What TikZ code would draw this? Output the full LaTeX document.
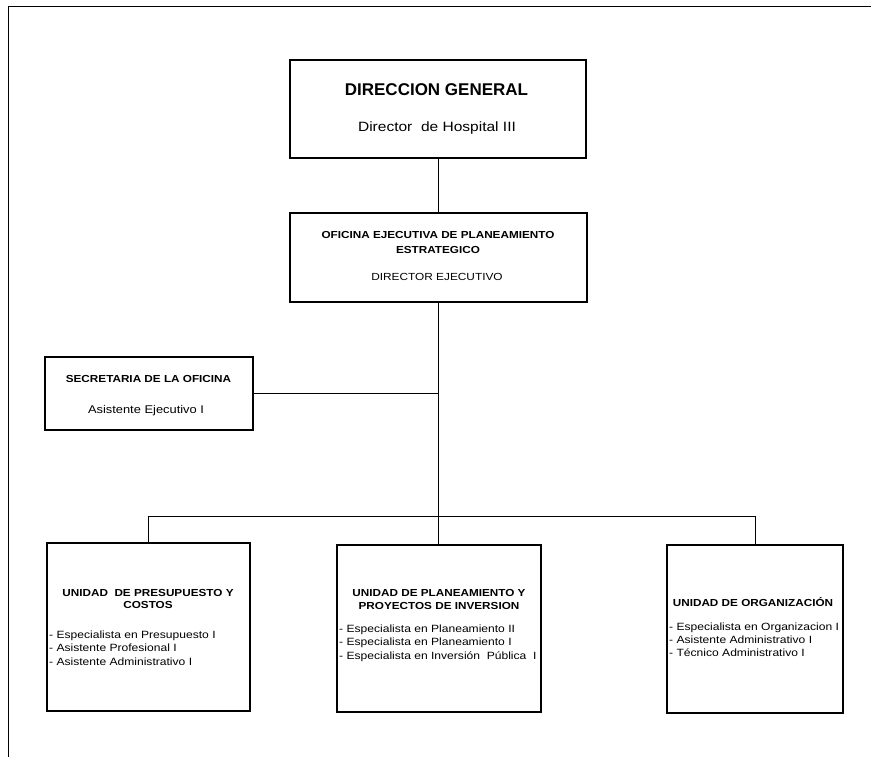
\documentclass[tikz,border=0pt]{standalone}
\usepackage{fontspec}
\setmainfont{Liberation Sans}[FakeStretch=1.15]
\newfontfamily\plainfont{Liberation Sans}
\begin{document}
\begin{tikzpicture}[x=1pt,y=-1pt,
  box/.style={draw=black, line width=1.1pt, rectangle, inner sep=0pt},
  conn/.style={draw=black, line width=1pt},
  frame/.style={draw=black, line width=0.8pt},
  ttl/.style={font=\fontsize{10.2}{15}\selectfont\bfseries, align=center, inner sep=0pt},
  utl/.style={font=\fontsize{10.2}{12.5}\selectfont\bfseries, align=center, inner sep=0pt},
  sub/.style={font=\fontsize{10.3}{12}\selectfont, align=center, inner sep=0pt},
  items/.style={font=\fontsize{10.5}{13.5}\selectfont, align=left, inner sep=0pt, anchor=west}]
\useasboundingbox (0,0) rectangle (871,757);
\draw[frame] (871,6) -- (8,6) -- (8,757);

% boxes
\node[box, minimum width=296pt, minimum height=98pt] (dg) at (438,109) {};
\node[box, minimum width=297pt, minimum height=89pt] (oe) at (438.5,257.5) {};
\node[box, minimum width=208pt, minimum height=73pt] (sec) at (149,393.5) {};
\node[box, minimum width=203pt, minimum height=168pt] (u1) at (148.5,627) {};
\node[box, minimum width=204pt, minimum height=167pt] (u2) at (439,628.5) {};
\node[box, minimum width=176pt, minimum height=168pt] (u3) at (755,629) {};

% texts
\node[inner sep=0pt, font=\plainfont\fontsize{17}{20}\selectfont\bfseries] (dgt) at (436.5,90) {DIRECCION GENERAL};
\node[sub, font=\fontsize{13.5}{16}\selectfont] (dgs) at (437,128) {Director\ \ de Hospital III};

\node[ttl] (oet) at (438,242.5) {OFICINA EJECUTIVA DE PLANEAMIENTO\\ESTRATEGICO};
\node[sub] (oes) at (437,277) {DIRECTOR EJECUTIVO};

\node[ttl] (sect) at (148.5,379) {SECRETARIA DE LA OFICINA};
\node[sub, font=\fontsize{11.2}{13}\selectfont] (secs) at (146,411) {Asistente Ejecutivo I};

\node[utl] (u1t) at (148,599) {UNIDAD\ \ DE PRESUPUESTO Y\\COSTOS};
\node[items] (u1i) at (49,648) {- Especialista en Presupuesto I\\- Asistente Profesional I\\- Asistente Administrativo I};

\node[utl] (u2t) at (439,599.5) {UNIDAD DE PLANEAMIENTO Y\\PROYECTOS DE INVERSION};
\node[items] (u2i) at (339,643) {- Especialista en Planeamiento II\\- Especialista en Planeamiento I\\- Especialista en Inversión\ \ Pública\ \ I};

\node[utl] (u3t) at (753,602) {UNIDAD DE ORGANIZACIÓN};
\node[items, font=\fontsize{10.5}{12.8}\selectfont] (u3i) at (669,640) {- Especialista en Organizacion I\\- Asistente Administrativo I\\- Técnico Administrativo I};

% connectors
\coordinate (bus) at (439,516);
\draw[conn] (dg.south) -- (oe.south |- dg.south) -- (oe.north);
\draw[conn] (oe.south) -- (oe.south |- u2.north);
\draw[conn] (sec.east) -- (sec.east -| oe.south);
\draw[conn] (u1.north) -- (u1.north |- bus) -- (u3.north |- bus) -- (u3.north);
\end{tikzpicture}
\end{document}
